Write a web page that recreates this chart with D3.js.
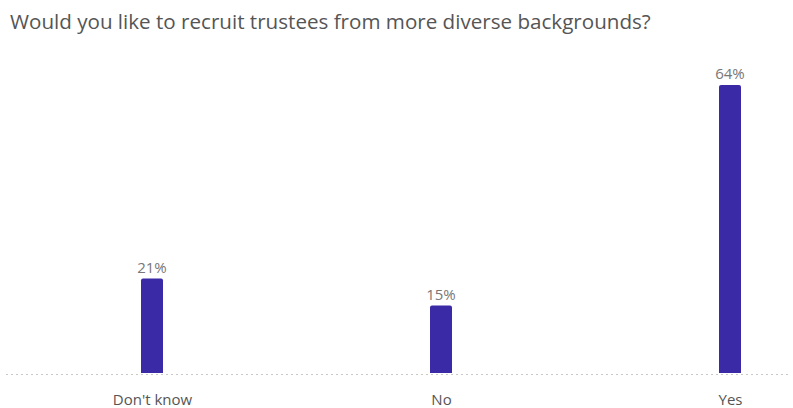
<!DOCTYPE html>
<html>
<head>
<meta charset="utf-8">
<script src="https://cdn.jsdelivr.net/npm/d3@7"></script>
<style>
  html, body { margin: 0; padding: 0; background: #fff; }
  svg { display: block; }
  text { font-family: "Open Sans", "Noto Sans", sans-serif; }
</style>
</head>
<body>
<script>
// Survey responses
const title = "Would you like to recruit trustees from more diverse backgrounds?";
const categories = ["Don't know", "No", "Yes"];
const percentages = [21, 15, 64];

const width = 793, height = 408;
const barWidth = 22;

const svg = d3.select("body").append("svg")
  .attr("width", width)
  .attr("height", height);

svg.append("text")
  .attr("x", 10)
  .attr("y", 29)
  .attr("font-size", 20.6)
  .attr("fill", "#555")
  .text(title);

const x = d3.scalePoint()
  .domain(categories)
  .range([152, 730]);

const y = d3.scaleLinear()
  .domain([0, d3.max(percentages)])
  .range([373, 85]);

// dotted baseline
svg.append("line")
  .attr("x1", 6).attr("x2", 790)
  .attr("y1", 374.5).attr("y2", 374.5)
  .attr("stroke", "#c8c8c8")
  .attr("stroke-width", 1)
  .attr("stroke-dasharray", "2,3");

const data = categories.map((c, i) => ({ c, v: percentages[i] }));

// bars with slightly rounded tops
svg.selectAll("path.bar")
  .data(data)
  .join("path")
  .attr("class", "bar")
  .attr("fill", "#3a2aa6")
  .attr("d", d => {
    const x0 = x(d.c) - barWidth / 2, x1 = x0 + barWidth;
    const top = y(d.v), bottom = y(0), r = 2;
    return `M${x0},${bottom}V${top + r}Q${x0},${top} ${x0 + r},${top}H${x1 - r}Q${x1},${top} ${x1},${top + r}V${bottom}Z`;
  });

// value labels
svg.selectAll("text.val")
  .data(data)
  .join("text")
  .attr("class", "val")
  .attr("x", d => x(d.c))
  .attr("y", d => y(d.v) - 6)
  .attr("text-anchor", "middle")
  .attr("font-size", 15)
  .attr("fill", "#777")
  .text(d => d.v + "%");

// category labels
const axis = d3.axisBottom(x).tickSize(0).tickPadding(0);
const g = svg.append("g")
  .attr("transform", "translate(0,394)")
  .call(axis);
g.select(".domain").remove();
g.selectAll("text")
  .attr("font-size", 15)
  .attr("fill", "#555")
  .attr("font-family", "\"Open Sans\", \"Noto Sans\", sans-serif");
</script>
</body>
</html>
